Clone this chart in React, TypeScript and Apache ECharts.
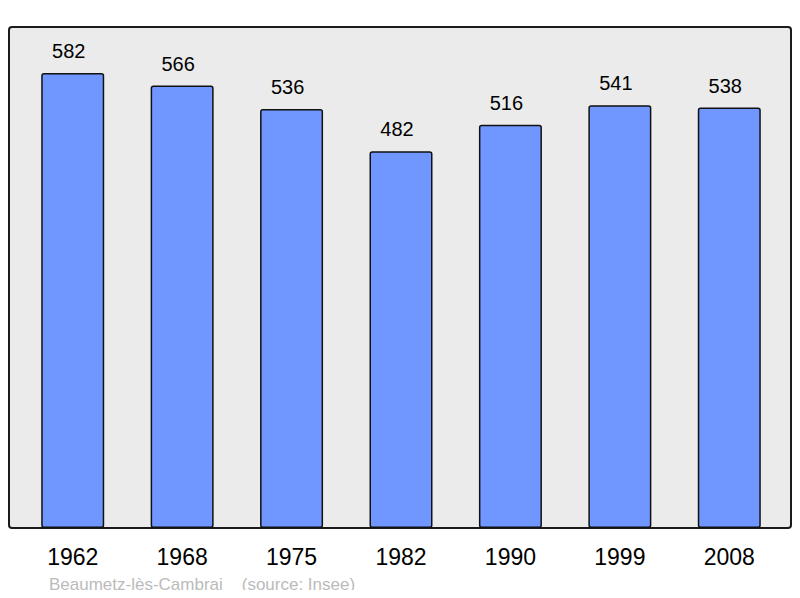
import { useEffect, useRef } from 'react'
import * as echarts from 'echarts'

const years = ['1962', '1968', '1975', '1982', '1990', '1999', '2008']
const population = [582, 566, 536, 482, 516, 541, 538]
const commune = 'Beaumetz-lès-Cambrai'
const source = '(source: Insee)'

const FONT = 'Liberation Sans, Arial, sans-serif'

export default function App() {
  const chartRef = useRef<HTMLDivElement>(null)

  useEffect(() => {
    if (!chartRef.current) return
    const chart = echarts.init(chartRef.current, undefined, { renderer: 'svg' })

    const option: echarts.EChartsOption = {
      animation: false,
      backgroundColor: '#ffffff',
      grid: { left: 18, right: 16, top: 27, bottom: 70 },
      graphic: [
        {
          type: 'rect',
          z: -10,
          shape: { x: 9, y: 27, width: 782, height: 501, r: 3 },
          style: { fill: '#ebebeb', stroke: '#1a1a1a', lineWidth: 2 },
          silent: true,
        },
        {
          type: 'text',
          left: 49,
          top: 576,
          style: {
            text: `${commune}    ${source}`,
            fill: '#bbbbbb',
            fontSize: 17,
            fontFamily: FONT,
          },
        },
      ],
      xAxis: {
        type: 'category',
        data: years,
        axisLine: { show: false },
        axisTick: { show: false },
        axisLabel: {
          color: '#000',
          fontSize: 23,
          fontFamily: FONT,
          margin: 17,
        },
      },
      yAxis: {
        type: 'value',
        min: 0,
        max: 641,
        show: false,
        splitLine: { show: false },
      },
      series: [
        {
          type: 'bar',
          data: population,
          barWidth: 63,
          itemStyle: {
            color: '#7097ff',
            borderColor: '#111',
            borderWidth: 1.5,
            borderRadius: 2,
          },
          label: {
            show: true,
            position: 'top',
            distance: 12,
            offset: [-4, 0],
            color: '#000',
            fontSize: 20,
            fontFamily: FONT,
          },
        },
      ],
    }

    chart.setOption(option)
    return () => chart.dispose()
  }, [])

  return <div ref={chartRef} style={{ width: '800px', height: '598px', margin: '-8px' }} />
}
